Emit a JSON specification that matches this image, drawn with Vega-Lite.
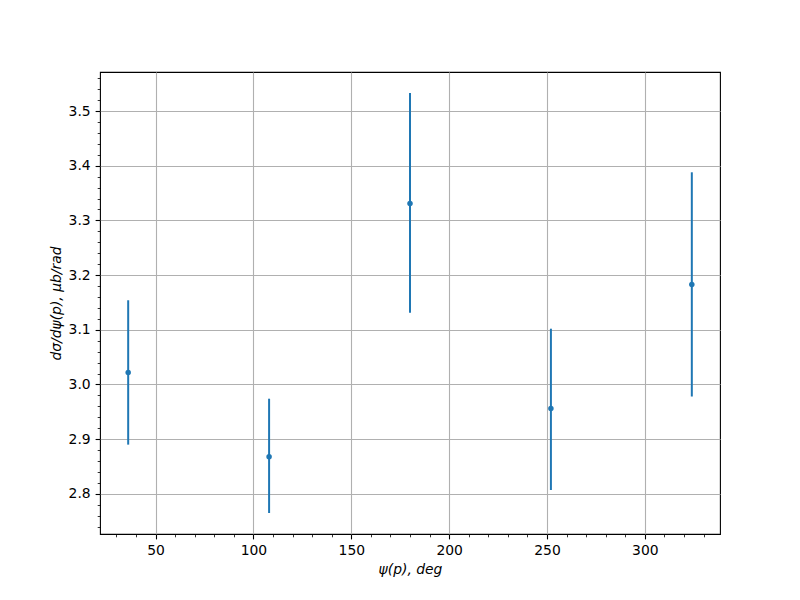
{
  "$schema": "https://vega.github.io/schema/vega-lite/v6.json",
  "autosize": "none",
  "width": 620,
  "height": 462,
  "padding": {"left": 100, "top": 72, "right": 80, "bottom": 66},
  "background": "white",
  "config": {
    "view": {"stroke": "black", "strokeWidth": 1.1},
    "axis": {
      "labelFont": "DejaVu Sans",
      "labelFontSize": 13.9,
      "labelColor": "black",
      "tickColor": "black",
      "tickSize": 4.9,
      "tickWidth": 1.1,
      "labelPadding": 4.9,
      "domain": false,
      "gridColor": "#b0b0b0",
      "gridWidth": 1.1,
      "titleFont": "DejaVu Sans",
      "titleFontStyle": "italic",
      "titleFontSize": 13.9,
      "titleFontWeight": "normal",
      "titleColor": "black",
      "titlePadding": 5
    }
  },
  "data": {
    "values": [
      {"psi": 36, "val": 3.022, "lo": 2.890, "hi": 3.154},
      {"psi": 108, "val": 2.868, "lo": 2.765, "hi": 2.974},
      {"psi": 180, "val": 3.331, "lo": 3.131, "hi": 3.533},
      {"psi": 252, "val": 2.956, "lo": 2.807, "hi": 3.102},
      {"psi": 324, "val": 3.183, "lo": 2.978, "hi": 3.388}
    ]
  },
  "layer": [
    {
      "mark": {"type": "rule", "color": "#1f77b4", "strokeWidth": 2},
      "encoding": {
        "x": {
          "field": "psi", "type": "quantitative",
          "scale": {"domain": [21.6, 338.4], "nice": false, "zero": false},
          "axis": {"orient": "bottom", "values": [50, 100, 150, 200, 250, 300], "grid": true, "title": "ψ(p), deg"}
        },
        "y": {
          "field": "lo", "type": "quantitative",
          "scale": {"domain": [2.7266, 3.5714], "nice": false, "zero": false},
          "axis": {"orient": "left", "values": [2.8, 2.9, 3.0, 3.1, 3.2, 3.3, 3.4, 3.5], "format": ".1f", "grid": true, "title": "dσ/dψ(p), μb/rad"}
        },
        "y2": {"field": "hi"}
      }
    },
    {
      "mark": {"type": "point", "filled": true, "size": 30, "color": "#1f77b4", "opacity": 1},
      "encoding": {
        "x": {"field": "psi", "type": "quantitative", "axis": null},
        "y": {"field": "val", "type": "quantitative", "axis": null}
      }
    },
    {
      "mark": {"type": "point", "opacity": 0},
      "encoding": {
        "x": {
          "field": "psi", "type": "quantitative",
          "axis": {"orient": "bottom", "values": [30, 40, 60, 70, 80, 90, 110, 120, 130, 140, 160, 170, 180, 190, 210, 220, 230, 240, 260, 270, 280, 290, 310, 320, 330], "labels": false, "grid": false, "tickSize": 2.8, "tickWidth": 0.8, "title": null}
        },
        "y": {
          "field": "val", "type": "quantitative",
          "axis": {"orient": "left", "values": [2.74, 2.76, 2.78, 2.82, 2.84, 2.86, 2.88, 2.92, 2.94, 2.96, 2.98, 3.02, 3.04, 3.06, 3.08, 3.12, 3.14, 3.16, 3.18, 3.22, 3.24, 3.26, 3.28, 3.32, 3.34, 3.36, 3.38, 3.42, 3.44, 3.46, 3.48, 3.52, 3.54, 3.56], "labels": false, "grid": false, "tickSize": 2.8, "tickWidth": 0.8, "title": null}
        }
      }
    }
  ],
  "resolve": {"axis": {"x": "independent", "y": "independent"}}
}
